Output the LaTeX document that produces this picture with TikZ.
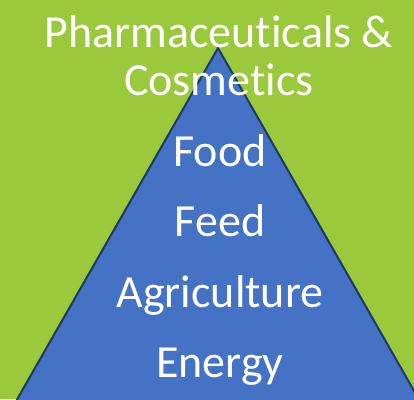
\documentclass[tikz,border=0pt]{standalone}
\usepackage{fontspec}
\setmainfont[RawFeature={-liga;-clig}]{Carlito}
\usetikzlibrary{positioning}
\definecolor{LeafGreen}{HTML}{9BC93C}
\definecolor{PyrBlue}{HTML}{4472C4}
\definecolor{PyrEdge}{HTML}{1F3864}
\tikzset{
    tierlabel/.style={text=white, font=\fontsize{46}{48}\selectfont, inner sep=0pt},
    tierbox/.style={tierlabel, text height=30pt, text depth=9pt},
    pyramid/.style={fill=PyrBlue, draw=PyrEdge, line width=2pt},
}

\begin{document}
\begin{tikzpicture}[x=1pt, y=-1pt]
    % green background sets the frame
    \fill[LeafGreen] (0,0) rectangle (414,399);
    \useasboundingbox (0,0) rectangle (414,399);
    \begin{scope}
        \clip (0,0) rectangle (414,399);
        \draw[pyramid] (218,48) -- (11,410) -- (425,410) -- cycle;
    \end{scope}

    % tiers, top to bottom
    \node[tierlabel, align=center, anchor=base] (pharma) at (219,95) {Pharmaceuticals \&\\Cosmetics};
    \node[tierbox, anchor=base] (food) at (220,166) {Food};
    \node[tierbox, below=31.5pt of food] (feed) {Feed};
    \node[tierbox, below=31pt of feed] (agri) {Agriculture};
    \node[tierbox, below=31pt of agri] (energy) {Energy};
\end{tikzpicture}
\end{document}
